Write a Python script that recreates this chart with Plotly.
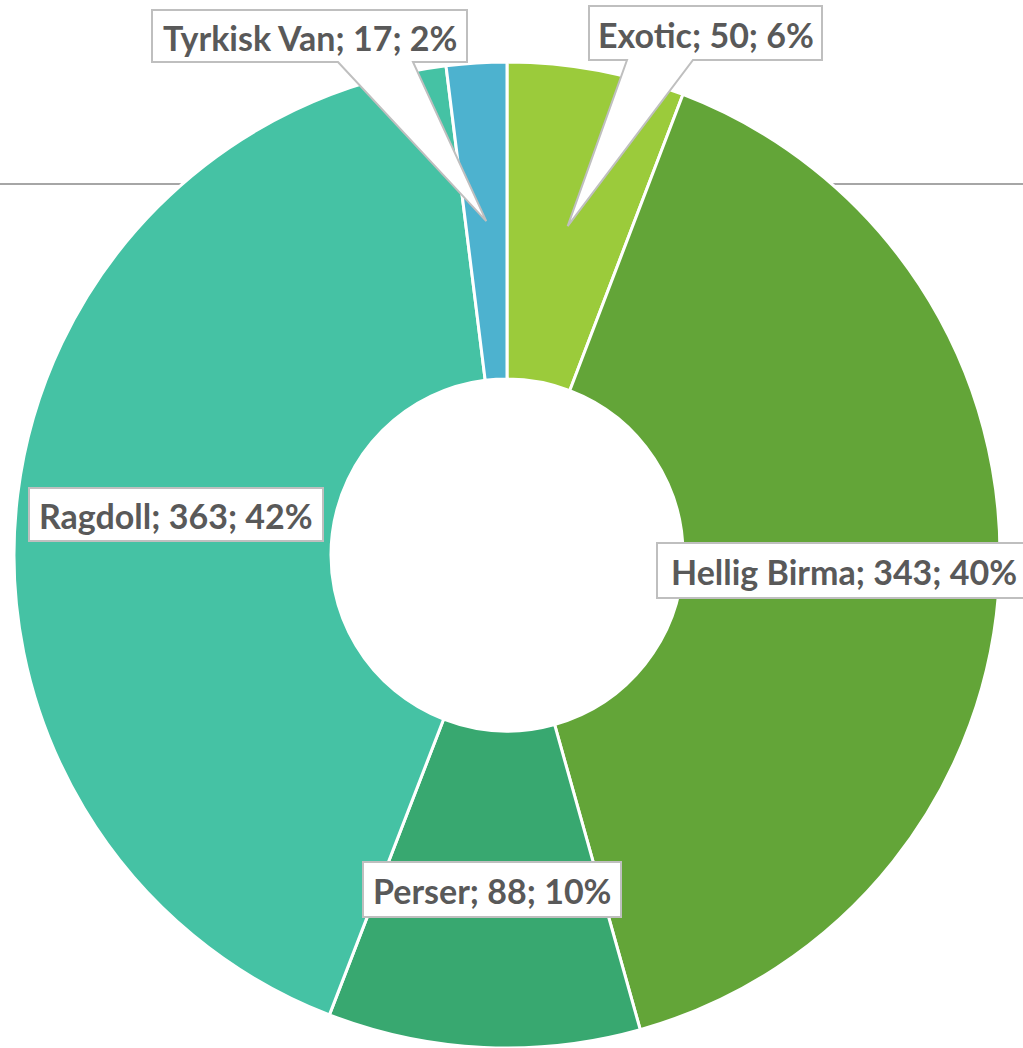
import math
import plotly.graph_objects as go

# ---- data ----
categories = ["Exotic", "Hellig Birma", "Perser", "Ragdoll", "Tyrkisk Van"]
values = [50, 343, 88, 363, 17]
colors = ["#9BCB3B", "#63A538", "#38A870", "#45C2A4", "#4DB2CF"]

# ---- layout constants (pixels) ----
W, H = 1023, 1048
CX, CY, R_OUT = 507, 555, 493
HOLE = 0.357

total = sum(values)
pcts = [round(v / total * 100) for v in values]
labels_txt = [f"{c}; {v}; {p}%" for c, v, p in zip(categories, values, pcts)]


def px(x, y):
    return x / W, 1 - y / H


# label boxes: (x0, y0, x1, y1), pointer base (bx1, bx2) or None
boxes = {
    "Exotic": ((589, 6, 822, 60), (627, 693)),
    "Hellig Birma": ((657, 543, 1030, 598), None),
    "Perser": ((363, 862, 621, 917), None),
    "Ragdoll": ((29, 488, 323, 541), None),
    "Tyrkisk Van": ((152, 10, 467, 62), (338, 413)),
}

# mid-angle of each slice (clockwise from 12 o'clock) -> pointer tips
cum = 0
tips = {}
r_mid = R_OUT * (1 + HOLE) / 2
for c, v in zip(categories, values):
    a = (cum + v / 2) / total * 2 * math.pi
    tips[c] = (CX + r_mid * math.sin(a), CY - r_mid * math.cos(a))
    cum += v

fig = go.Figure()
fig.add_trace(go.Pie(
    labels=categories, values=values, sort=False, direction="clockwise",
    rotation=0, hole=HOLE, textinfo="none", hoverinfo="none",
    marker=dict(colors=colors, line=dict(color="white", width=3)),
    domain=dict(x=[(CX - R_OUT) / W, (CX + R_OUT) / W],
                y=[max(0, 1 - (CY + R_OUT) / H), 1 - (CY - R_OUT) / H]),
    showlegend=False,
))

shapes = []
# thin grey line behind the ring
shapes.append(dict(type="line", xref="paper", yref="paper", x0=0, x1=1,
                   y0=1 - 184 / H, y1=1 - 184 / H, layer="below",
                   line=dict(color="#A6A6A6", width=2)))

annotations = []
for c, txt in zip(categories, labels_txt):
    (x0, y0, x1, y1), base = boxes[c]
    pts = [(x0, y0), (x1, y0), (x1, y1)]
    if base:
        tx, ty = tips[c]
        pts += [(base[1], y1), (tx, ty), (base[0], y1)]
    pts += [(x0, y1)]
    path = "M " + " L ".join("{:.5f},{:.5f}".format(*px(*p)) for p in pts) + " Z"
    shapes.append(dict(type="path", xref="paper", yref="paper", path=path,
                       fillcolor="white", layer="above",
                       line=dict(color="#BFBFBF", width=2)))
    ax, ay = px((x0 + x1) / 2, (y0 + y1) / 2 + 1)
    annotations.append(dict(
        x=ax, y=ay, xref="paper", yref="paper",
        xanchor="center", yanchor="middle", showarrow=False, text=txt,
        font=dict(family="Lato", size=34, color="#595959", weight="bold"),
    ))

fig.update_layout(
    width=W, height=H, margin=dict(l=0, r=0, t=0, b=0),
    paper_bgcolor="white", plot_bgcolor="white",
    shapes=shapes, annotations=annotations,
)

fig.write_html("out.html", config={"displayModeBar": False},
               post_script="document.body.style.margin='0';document.body.style.overflow='hidden';")
